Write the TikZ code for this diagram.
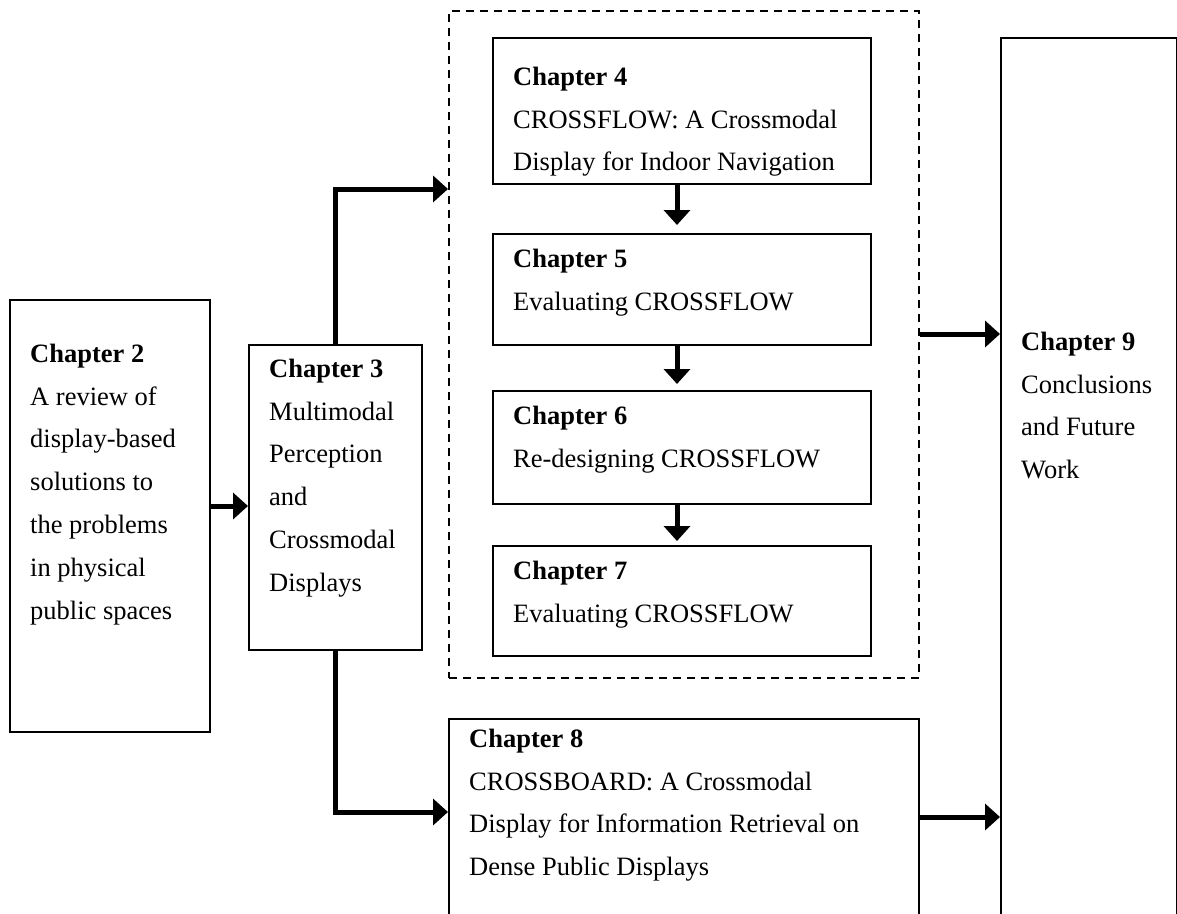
\documentclass[tikz,border=0pt]{standalone}
\usepackage{fontspec}
\setmainfont{Liberation Serif}
\usetikzlibrary{arrows.meta}

\tikzset{
  chbox/.style={draw=black, line width=2pt, inner sep=0pt, rectangle},
  groupbox/.style={draw=black, line width=2pt, dash pattern=on 8pt off 6pt, inner sep=0pt, rectangle},
  chtext/.style={inner sep=0pt, align=left, anchor=north west,
    font=\fontsize{26.5}{42.8}\selectfont},
  flow/.style={line width=5pt, -{Triangle[length=15pt,width=26pt]}},
}
% first line carries a fixed-height strut so the text block top sits 20pt above its baseline
\newcommand{\chhead}[1]{\rule{0pt}{20pt}\textbf{Chapter #1}}

\begin{document}
\begin{tikzpicture}[x=1pt, y=-1pt]
\useasboundingbox (0,0) rectangle (1177,913);
\clip (0,0) rectangle (1177,913);
\fill[white] (0,0) rectangle (1177,913);

% chapter boxes (corner at top left, sizes in pt)
\node[chbox, anchor=north west, minimum width=200pt, minimum height=432pt] (ch2) at (9,299) {};
\node[chbox, anchor=north west, minimum width=173pt, minimum height=305pt] (ch3) at (248,344) {};
\node[groupbox, anchor=north west, minimum width=470pt, minimum height=667pt] (grp) at (448,10) {};
\node[chbox, anchor=north west, minimum width=378pt, minimum height=146pt] (ch4) at (492,37) {};
\node[chbox, anchor=north west, minimum width=378pt, minimum height=111pt] (ch5) at (492,233) {};
\node[chbox, anchor=north west, minimum width=378pt, minimum height=113pt] (ch6) at (492,390) {};
\node[chbox, anchor=north west, minimum width=378pt, minimum height=110pt] (ch7) at (492,545) {};
\node[chbox, anchor=north west, minimum width=470pt, minimum height=240pt] (ch8) at (448,718) {};
\node[chbox, anchor=north west, minimum width=176pt, minimum height=920pt] (ch9) at (1000,37) {};

% texts
\node[chtext] (t2) at (30,342) {\chhead{2}\\A review of\\display-based\\solutions to\\the problems\\in physical\\public spaces};
\node[chtext] (t3) at (269,357) {\chhead{3}\\Multimodal\\Perception\\and\\Crossmodal\\Displays};
\node[chtext] (t4) at (513,65) {\chhead{4}\\CROSSFLOW: A Crossmodal\\Display for Indoor Navigation};
\node[chtext] (t5) at (513,247) {\chhead{5}\\Evaluating CROSSFLOW};
\node[chtext] (t6) at (513,404) {\chhead{6}\\Re-designing CROSSFLOW};
\node[chtext] (t7) at (513,559) {\chhead{7}\\Evaluating CROSSFLOW};
\node[chtext] (t8) at (469,727) {\chhead{8}\\CROSSBOARD: A Crossmodal\\Display for Information Retrieval on\\Dense Public Displays};
\node[chtext] (t9) at (1021,330) {\chhead{9}\\Conclusions\\and Future\\Work};

% reference levels for the connectors
\coordinate (xmid) at (677,0);
\coordinate (yup) at (0,189);
\coordinate (yright) at (0,334);
\coordinate (ylow) at (0,812);
\coordinate (ybot) at (0,817);
\coordinate (ylink) at (0,506);

% connectors
\draw[flow] (ch2.east |- ylink) -- (ch3.west |- ylink);
\draw[flow] (ch3.north) |- (grp.west |- yup);
\draw[flow] (ch3.south) |- (ch8.west |- ylow);
\draw[flow, shorten >=8pt] (ch4.south -| xmid) -- (ch5.north -| xmid);
\draw[flow, shorten >=6pt] (ch5.south -| xmid) -- (ch6.north -| xmid);
\draw[flow, shorten >=4pt] (ch6.south -| xmid) -- (ch7.north -| xmid);
\draw[flow] (grp.east |- yright) -- (ch9.west |- yright);
\draw[flow] (ch8.east |- ybot) -- (ch9.west |- ybot);
\end{tikzpicture}
\end{document}
